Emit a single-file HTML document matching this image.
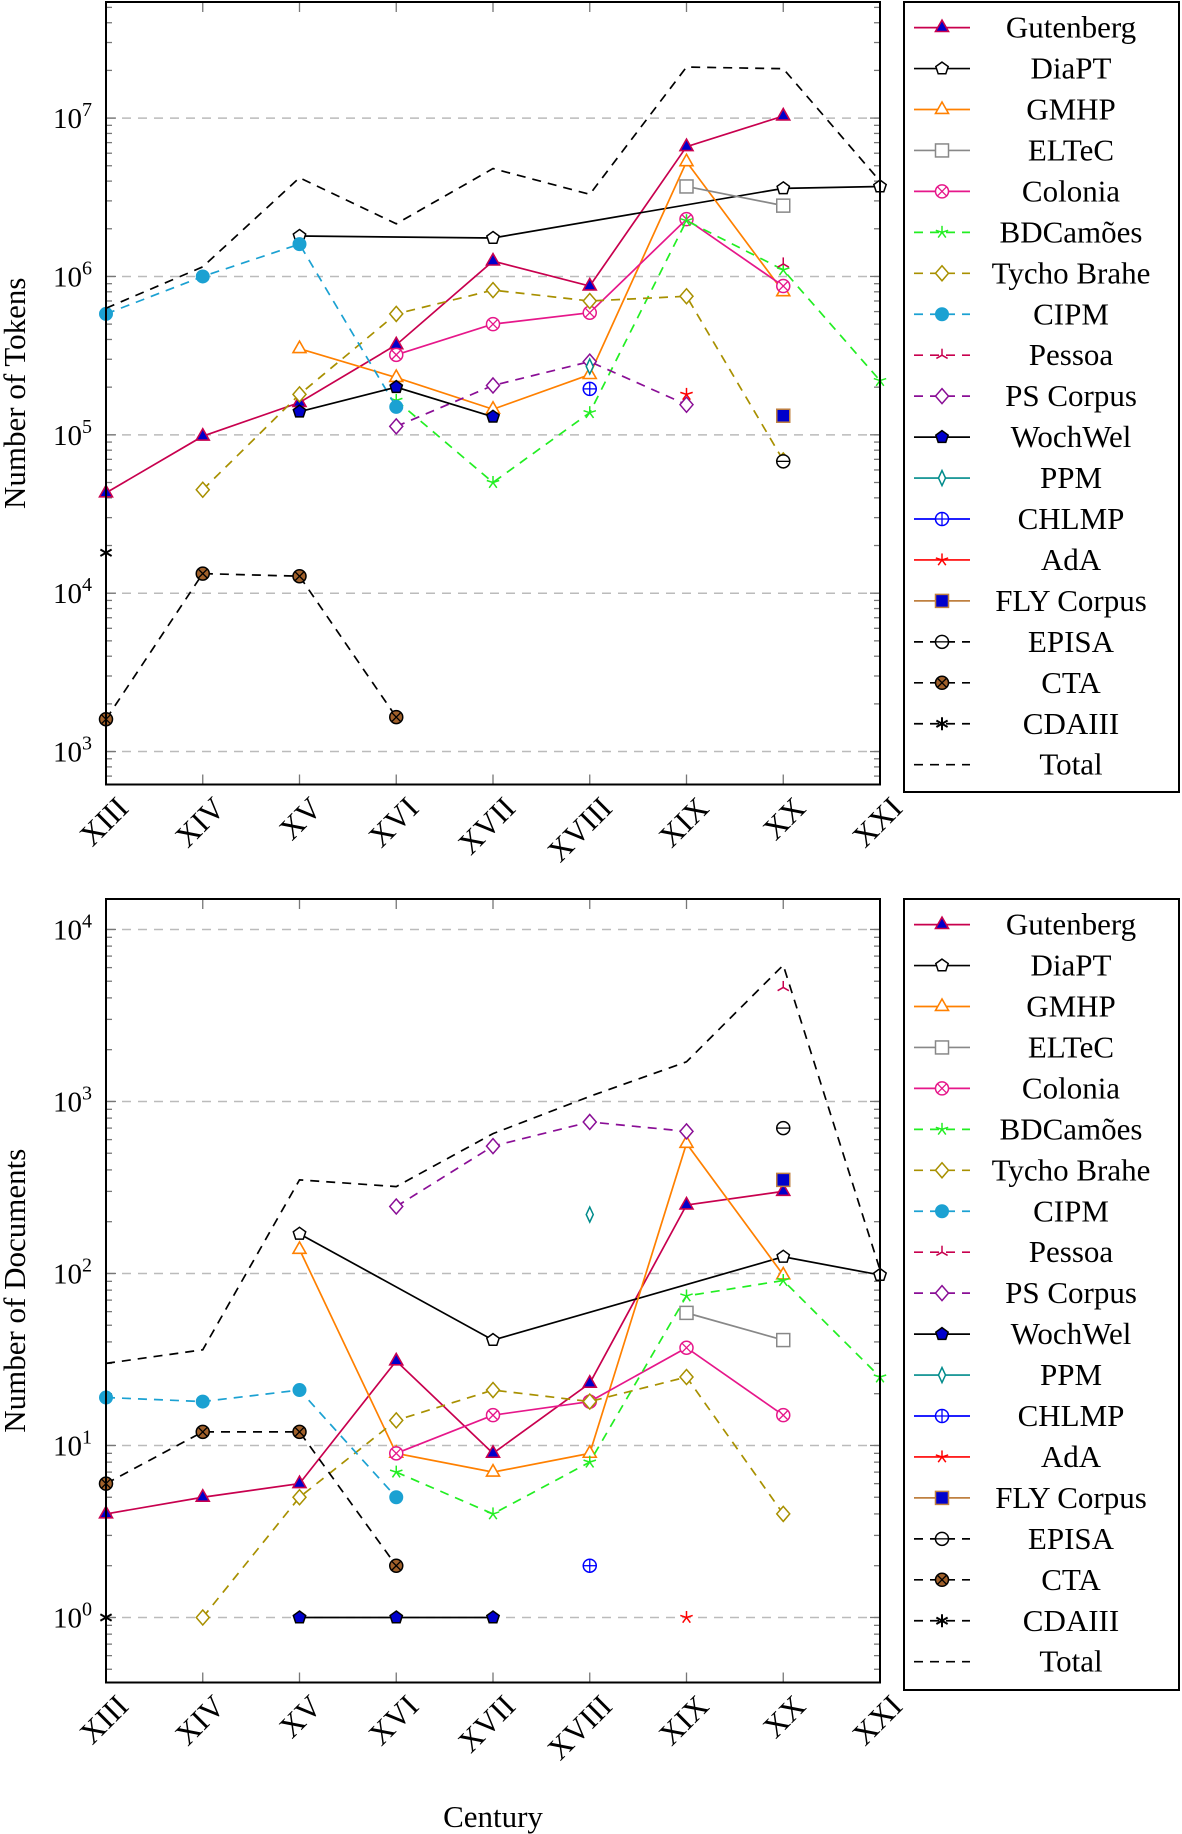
<!DOCTYPE html>
<html><head><meta charset="utf-8">
<style>
html,body{margin:0;padding:0;background:#fff;}
svg{display:block;font-family:"Liberation Serif","DejaVu Serif",serif;}
</style></head>
<body>
<svg id="chart" width="1182" height="1834" viewBox="0 0 1182 1834" xmlns="http://www.w3.org/2000/svg"></svg>
<script>
const centuries = ["XIII","XIV","XV","XVI","XVII","XVIII","XIX","XX","XXI"];
const seriesNames = ["Gutenberg","DiaPT","GMHP","ELTeC","Colonia","BDCamões","Tycho Brahe","CIPM","Pessoa","PS Corpus","WochWel","PPM","CHLMP","AdA","FLY Corpus","EPISA","CTA","CDAIII","Total"];
const N = null;
// tokens per century
const tokGutenberg = [43000,98000,160000,370000,1250000,870000,6600000,10300000,N];
const tokDiaPT     = [N,N,1800000,N,1750000,N,N,3600000,3700000];
const tokGMHP      = [N,N,350000,230000,145000,240000,5300000,800000,N];
const tokELTeC     = [N,N,N,N,N,N,3700000,2800000,N];
const tokColonia   = [N,N,N,320000,500000,590000,2300000,870000,N];
const tokBDCamoes  = [N,N,N,165000,50000,138000,2250000,1100000,220000];
const tokTycho     = [N,45000,180000,580000,820000,700000,750000,69000,N];
const tokCIPM      = [580000,1000000,1600000,150000,N,N,N,N,N];
const tokPessoa    = [N,N,N,N,N,N,N,1200000,N];
const tokPS        = [N,N,N,113000,205000,290000,155000,N,N];
const tokWochWel   = [N,N,140000,200000,130000,N,N,N,N];
const tokPPM       = [N,N,N,N,N,270000,N,N,N];
const tokCHLMP     = [N,N,N,N,N,195000,N,N,N];
const tokAdA       = [N,N,N,N,N,N,180000,N,N];
const tokFLY       = [N,N,N,N,N,N,N,132000,N];
const tokEPISA     = [N,N,N,N,N,N,N,68000,N];
const tokCTA       = [1600,13300,12800,1650,N,N,N,N,N];
const tokCDAIII    = [18000,N,N,N,N,N,N,N,N];
const tokTotal     = [630000,1150000,4200000,2150000,4800000,3300000,21000000,20500000,4000000];
// documents per century
const docGutenberg = [4,5,6,31,9,23,250,300,N];
const docDiaPT     = [N,N,170,N,41,N,N,125,98];
const docGMHP      = [N,N,138,9,7,9,570,98,N];
const docELTeC     = [N,N,N,N,N,N,59,41,N];
const docColonia   = [N,N,N,9,15,18,37,15,N];
const docBDCamoes  = [N,N,N,7,4,8,74,91,25];
const docTycho     = [N,1,5,14,21,18,25,4,N];
const docCIPM      = [19,18,21,5,N,N,N,N,N];
const docPessoa    = [N,N,N,N,N,N,N,4600,N];
const docPS        = [N,N,N,245,550,760,670,N,N];
const docWochWel   = [N,N,1,1,1,N,N,N,N];
const docPPM       = [N,N,N,N,N,220,N,N,N];
const docCHLMP     = [N,N,N,N,N,2,N,N,N];
const docAdA       = [N,N,N,N,N,N,1,N,N];
const docFLY       = [N,N,N,N,N,N,N,350,N];
const docEPISA     = [N,N,N,N,N,N,N,700,N];
const docCTA       = [6,12,12,2,N,N,N,N,N];
const docCDAIII    = [1,N,N,N,N,N,N,N,N];
const docTotal     = [30,36,350,320,650,1070,1700,6200,105];
const tokTicks = [3,4,5,6,7];
const docTicks = [0,1,2,3,4];

const tokSeries=[tokGutenberg,tokDiaPT,tokGMHP,tokELTeC,tokColonia,tokBDCamoes,tokTycho,tokCIPM,tokPessoa,tokPS,tokWochWel,tokPPM,tokCHLMP,tokAdA,tokFLY,tokEPISA,tokCTA,tokCDAIII,tokTotal];
const docSeries=[docGutenberg,docDiaPT,docGMHP,docELTeC,docColonia,docBDCamoes,docTycho,docCIPM,docPessoa,docPS,docWochWel,docPPM,docCHLMP,docAdA,docFLY,docEPISA,docCTA,docCDAIII,docTotal];

const styles=[
 {c:"#c8004e",d:false,m:"tri",f:"#0000cc"},
 {c:"#000",d:false,m:"pent",f:"#fff"},
 {c:"#ff8000",d:false,m:"tri",f:"#fff"},
 {c:"#888",d:false,m:"sq",f:"#fff"},
 {c:"#e6178a",d:false,m:"otimes",f:"#fff"},
 {c:"#22ee22",d:true,m:"star",f:"none"},
 {c:"#a89000",d:true,m:"diam",f:"#fff"},
 {c:"#1ba1d2",d:true,m:"dot",f:"#1ba1d2"},
 {c:"#c8004e",d:true,m:"tristar",f:"none"},
 {c:"#8a0e96",d:true,m:"diam",f:"#fff"},
 {c:"#000",d:false,m:"pent",f:"#0000cc"},
 {c:"#008b8b",d:false,m:"thindiam",f:"#fff"},
 {c:"#0000ff",d:false,m:"oplus",f:"#fff"},
 {c:"#ff0000",d:false,m:"star",f:"none"},
 {c:"#bf8040",d:false,m:"sq",f:"#0000cc"},
 {c:"#000",d:true,m:"ominus",f:"#fff"},
 {c:"#000",d:true,m:"otimes",f:"#a0602a"},
 {c:"#000",d:true,m:"aster",f:"none"},
 {c:"#000",d:true,m:"none",f:"none"}
];
const NS="http://www.w3.org/2000/svg";
const svg=document.getElementById("chart");
function el(tag,attrs,parent){const e=document.createElementNS(NS,tag);for(const k in attrs)e.setAttribute(k,attrs[k]);(parent||svg).appendChild(e);return e;}

function marker(g,type,x,y,st){
  const s=st.c, f=st.f, r=6.5;
  let m;
  if(type==="tri") m=el("polygon",{points:`${x},${y-r-1} ${x-r},${y+r*0.6} ${x+r},${y+r*0.6}`,fill:f,stroke:s,"stroke-width":1.6},g);
  else if(type==="pent"){let p=[];for(let i=0;i<5;i++){const a=-Math.PI/2+i*2*Math.PI/5;p.push((x+r*Math.cos(a)).toFixed(1)+","+(y+r*Math.sin(a)).toFixed(1));}m=el("polygon",{points:p.join(" "),fill:f,stroke:s,"stroke-width":1.5},g);}
  else if(type==="sq") m=el("rect",{x:x-r,y:y-r,width:2*r,height:2*r,fill:f,stroke:s,"stroke-width":1.5},g);
  else if(type==="diam") m=el("polygon",{points:`${x},${y-r-1} ${x+r},${y} ${x},${y+r+1} ${x-r},${y}`,fill:f,stroke:s,"stroke-width":1.5},g);
  else if(type==="thindiam") m=el("polygon",{points:`${x},${y-r-1} ${x+3.5},${y} ${x},${y+r+1} ${x-3.5},${y}`,fill:f,stroke:s,"stroke-width":1.5},g);
  else if(type==="dot") m=el("circle",{cx:x,cy:y,r:r,fill:f,stroke:s,"stroke-width":1},g);
  else if(type==="otimes"||type==="oplus"||type==="ominus"){
    m=el("g",{},g);
    el("circle",{cx:x,cy:y,r:r,fill:f,stroke:s,"stroke-width":1.5},m);
    const k=r*0.7;
    if(type==="otimes"){el("line",{x1:x-k,y1:y-k,x2:x+k,y2:y+k,stroke:s,"stroke-width":1.3},m);el("line",{x1:x-k,y1:y+k,x2:x+k,y2:y-k,stroke:s,"stroke-width":1.3},m);}
    else if(type==="oplus"){el("line",{x1:x-r,y1:y,x2:x+r,y2:y,stroke:s,"stroke-width":1.3},m);el("line",{x1:x,y1:y-r,x2:x,y2:y+r,stroke:s,"stroke-width":1.3},m);}
    else el("line",{x1:x-r,y1:y,x2:x+r,y2:y,stroke:s,"stroke-width":1.3},m);
  }
  else if(type==="star"||type==="aster"||type==="tristar"){
    m=el("g",{},g);const n=type==="tristar"?3:(type==="aster"?6:5);
    for(let i=0;i<n;i++){const a=-Math.PI/2+i*2*Math.PI/n;el("line",{x1:x,y1:y,x2:x+r*Math.cos(a),y2:y+r*Math.sin(a),stroke:s,"stroke-width":type==="aster"?2:1.5},m);}
  }
  if(m){
  }
}

function drawChart(cfg){
  const {top,bottom,left,right,lmin,lmax,ticks,series,title,legTop,legBottom,tickLabelY,prefix}=cfg;
  const xs=i=>left+i*(right-left)/8;
  const ys=v=>bottom-(Math.log10(v)-lmin)/(lmax-lmin)*(bottom-top);
  const g=el("g",{});  
  ticks.forEach(t=>{const y=ys(Math.pow(10,t));const gl=el("line",{x1:left,x2:right,y1:y,y2:y,stroke:"#bbb","stroke-width":1.5,"stroke-dasharray":"9 7"},g);
    });
  for(let d=Math.floor(lmin);d<=Math.ceil(lmax);d++){for(let k=1;k<=9;k++){const v=k*Math.pow(10,d);const lv=Math.log10(v);if(lv<lmin||lv>lmax)continue;const y=ys(v);const len=k===1?10:6;
    el("line",{x1:left,x2:left+len,y1:y,y2:y,stroke:"#777","stroke-width":1.3},g);el("line",{x1:right,x2:right-len,y1:y,y2:y,stroke:"#777","stroke-width":1.3},g);}}
  centuries.forEach((c,i)=>{const x=xs(i);el("line",{x1:x,x2:x,y1:bottom,y2:bottom-10,stroke:"#777","stroke-width":1.3},g);el("line",{x1:x,x2:x,y1:top,y2:top+10,stroke:"#777","stroke-width":1.3},g);
    const t=el("text",{x:x+24,y:tickLabelY,"font-size":31,"text-anchor":"end",transform:`rotate(-45 ${x+24} ${tickLabelY})`},g);t.textContent=c;
    });
  ticks.forEach(t=>{const y=ys(Math.pow(10,t));const tx=el("text",{x:left-14,y:y+10,"font-size":29,"text-anchor":"end"},g);
    
    const a=el("tspan",{},tx);a.textContent="10";const b=el("tspan",{dy:-12,"font-size":20},tx);b.textContent=String(t);});
  series.forEach((arr,si)=>{const st=styles[si];const pts=[];
    arr.forEach((v,i)=>{if(v!=null)pts.push([xs(i),ys(v)]);});
    const sg=el("g",{},g);
    if(pts.length>1){const p=el("polyline",{points:pts.map(q=>q.join(",")).join(" "),fill:"none",stroke:st.c,"stroke-width":1.7},sg);if(st.d)p.setAttribute("stroke-dasharray","9 7");}
    pts.forEach(q=>marker(sg,st.m,q[0],q[1],st));
  });
  const fr=el("rect",{x:left,y:top,width:right-left,height:bottom-top,fill:"none",stroke:"#000","stroke-width":2},g);
  
  const cy=(top+bottom)/2;const yt=el("text",{x:25,y:cy,"font-size":31,"text-anchor":"middle",transform:`rotate(-90 25 ${cy})`},g);yt.textContent=title;
  
  const lg=el("g",{});
  el("rect",{x:904,y:legTop,width:275,height:legBottom-legTop,fill:"#fff",stroke:"#000","stroke-width":2},lg);
  const first=legTop+25.6, step=40.95;
  seriesNames.forEach((n,i)=>{const y=first+i*step;const st=styles[i];
    const eg=el("g",{},lg);
    const ln=el("line",{x1:914,x2:970,y1:y,y2:y,stroke:st.c,"stroke-width":1.7},eg);if(st.d)ln.setAttribute("stroke-dasharray","9 7");
    marker(eg,st.m,942,y,st);
    const t=el("text",{x:1071,y:y+10,"font-size":31,"text-anchor":"middle"},eg);t.textContent=n;});
}
drawChart({top:2,bottom:784.5,left:106,right:880,lmin:2.792,lmax:7.733,ticks:tokTicks,series:tokSeries,title:"Number of Tokens",legTop:2,legBottom:792,tickLabelY:810,prefix:"tokens"});
drawChart({top:899,bottom:1682.5,left:106,right:880,lmin:-0.378,lmax:4.177,ticks:docTicks,series:docSeries,title:"Number of Documents",legTop:899,legBottom:1690,tickLabelY:1708,prefix:"documents"});
const xt=el("text",{x:493,y:1827,"font-size":31,"text-anchor":"middle"});xt.textContent="Century";


</script>
</body></html>
